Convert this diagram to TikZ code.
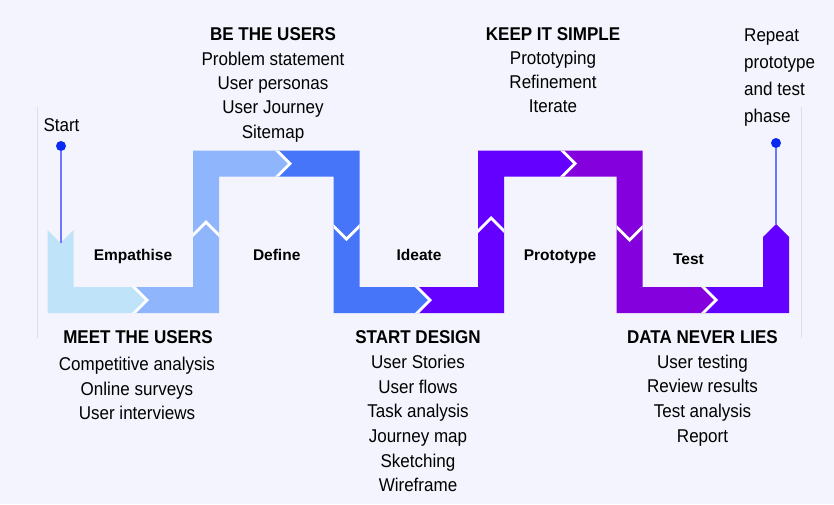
\documentclass[tikz,border=0pt]{standalone}
\usepackage{fontspec}
\setmainfont{Liberation Sans}[FakeStretch=0.92]
\newfontfamily\lblfont{Liberation Sans}
\definecolor{bgc}{HTML}{F3F4FD}
\definecolor{cA}{HTML}{BFE3F8}
\definecolor{cB}{HTML}{8FB5FD}
\definecolor{cC}{HTML}{4675FA}
\definecolor{cD}{HTML}{6300FF}
\definecolor{cE}{HTML}{8400DD}
\definecolor{dotc}{HTML}{0A2AF2}
\definecolor{linec}{HTML}{6A78FF}
\definecolor{faintc}{HTML}{DDDEE8}
\newcommand\hchev[2]{\fill[white] ({#1-15},{#2-13}) -- ({#1-2},#2) -- ({#1-15},{#2+13}) -- ({#1-11},{#2+13}) -- ({#1+2},#2) -- ({#1-11},{#2-13}) -- cycle;}
\newcommand\uchev[2]{\fill[white] ({#1-13},{#2+15}) -- (#1,{#2+2}) -- ({#1+13},{#2+15}) -- ({#1+13},{#2+11}) -- (#1,{#2-2}) -- ({#1-13},{#2+11}) -- cycle;}
\newcommand\dchev[2]{\fill[white] ({#1-13},{#2-15}) -- (#1,{#2-2}) -- ({#1+13},{#2-15}) -- ({#1+13},{#2-11}) -- (#1,{#2+2}) -- ({#1-13},{#2-11}) -- cycle;}
\begin{document}
\begin{tikzpicture}[x=1pt,y=-1pt,
  txt/.style={font=\fontsize{18.5}{22}\selectfont, inner sep=0pt, anchor=base, text=black},
  hdr/.style={font=\fontsize{18.5}{22}\selectfont\bfseries, inner sep=0pt, anchor=base, text=black},
  lbl/.style={font=\lblfont\bfseries\fontsize{15.5}{18}\selectfont, inner sep=0pt, anchor=base, text=black},
  dotn/.style={circle, fill=dotc, inner sep=0pt, minimum size=10pt},
  stem/.style={draw=linec, line width=1.2pt},
  faint/.style={draw=faintc, line width=0.8pt}]
\useasboundingbox (0,0) rectangle (834,504);
\fill[bgc] (0,0) rectangle (834,504);
\draw[faint] (37,107) -- (37,338);
\draw[faint] (801,107) -- (801,338);

% band pieces
\fill[cA] (47.5,230) -- (60.5,243) -- (73.5,230) -- (73.5,287) -- (134,287) -- (147,300) -- (134,313) -- (47.5,313) -- cycle;
\fill[cB] (134,287) -- (147,300) -- (134,313) -- (219,313) -- (219,176.5) -- (277,176.5) -- (290,163.5) -- (277,150.5) -- (193,150.5) -- (193,287) -- cycle;
\fill[cC] (277,150.5) -- (290,163.5) -- (277,176.5) -- (333.5,176.5) -- (333.5,313) -- (417,313) -- (430,300) -- (417,287) -- (359.5,287) -- (359.5,150.5) -- cycle;
\fill[cD] (417,287) -- (430,300) -- (417,313) -- (504,313) -- (504,176.5) -- (562,176.5) -- (575,163.5) -- (562,150.5) -- (478,150.5) -- (478,287) -- cycle;
\fill[cE] (562,150.5) -- (575,163.5) -- (562,176.5) -- (616.5,176.5) -- (616.5,313) -- (703,313) -- (716,300) -- (703,287) -- (642.5,287) -- (642.5,150.5) -- cycle;
\fill[cD] (703,287) -- (716,300) -- (703,313) -- (789,313) -- (789,237) -- (776,224) -- (763,237) -- (763,287) -- cycle;

% white chevrons
\hchev{147}{300}
\hchev{290}{163.5}
\hchev{430}{300}
\hchev{575}{163.5}
\hchev{716}{300}
\uchev{206}{222}
\dchev{346.5}{239}
\uchev{491}{218}
\dchev{629.5}{240}

% start and end markers
\node[dotn] (startdot) at (61,146) {};
\coordinate (starttip) at (61,243);
\draw[stem] (startdot) -- (starttip);
\node[dotn] (enddot) at (776,143) {};
\coordinate (endtip) at (776,224);
\draw[stem] (enddot) -- (endtip);
\node[txt, anchor=base west] (starttxt) at (43.3,131.7) {Start};
\foreach \t [count=\i from 0] in {Repeat, prototype, and test, phase}
  \node[txt, anchor=base west] (rep\i) at (744,{41.7+26.8*\i}) {\t};

% phase labels
\node[lbl] (empathise) at (133,260.7) {Empathise};
\node[lbl] (define) at (276.7,260) {Define};
\node[lbl] (ideate) at (419,260) {Ideate};
\node[lbl] (prototype) at (560,260.7) {Prototype};
\node[lbl] (test) at (688.5,264) {Test};

% text blocks
\node[hdr] (meethdr) at (138,343.3) {MEET THE USERS};
\foreach \t [count=\i from 0] in {Competitive analysis, Online surveys, User interviews}
  \node[txt] (meet\i) at (137,{370.7+24.6*\i}) {\t};

\node[hdr] (behdr) at (273,40) {BE THE USERS};
\foreach \t [count=\i from 0] in {Problem statement, User personas, User Journey, Sitemap}
  \node[txt] (be\i) at (273,{65+24.4*\i}) {\t};

\node[hdr] (starthdr) at (418,343.3) {START DESIGN};
\foreach \t [count=\i from 0] in {User Stories, User flows, Task analysis, Journey map, Sketching, Wireframe}
  \node[txt] (sd\i) at (418,{368.3+24.7*\i}) {\t};

\node[hdr] (keephdr) at (553,40) {KEEP IT SIMPLE};
\foreach \t [count=\i from 0] in {Prototyping, Refinement, Iterate}
  \node[txt] (keep\i) at (553,{64.3+24.2*\i}) {\t};

\node[hdr] (datahdr) at (702.5,343.3) {DATA NEVER LIES};
\foreach \t [count=\i from 0] in {User testing, Review results, Test analysis, Report}
  \node[txt] (data\i) at (702.5,{368.3+24.6*\i}) {\t};
\end{tikzpicture}
\end{document}
